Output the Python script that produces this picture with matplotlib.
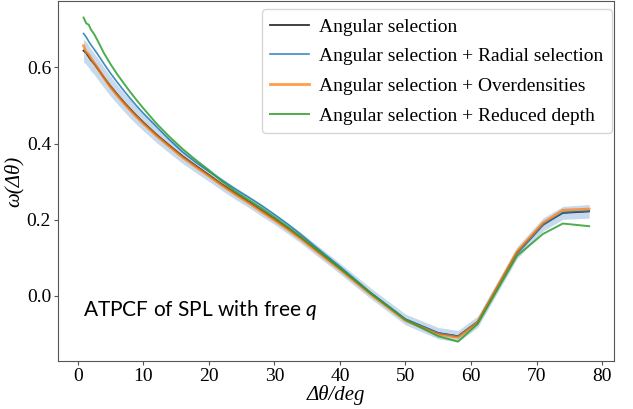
import numpy as np
import matplotlib
matplotlib.use("Agg")
import matplotlib.pyplot as plt

plt.rcParams["font.family"] = "Liberation Serif"
plt.rcParams["mathtext.fontset"] = "custom"
plt.rcParams["mathtext.it"] = "Lato:italic"
plt.rcParams["mathtext.rm"] = "Lato"

# angular separation (deg)
theta = [0.9, 1.3, 1.7, 2, 2.5, 3, 4, 5, 6, 7, 8, 9, 10, 12, 14, 16, 18, 20,
         22, 24, 26, 28, 30, 32, 34, 36, 38, 40, 42, 44.6, 50, 55, 58, 61,
         67, 71, 74, 78]

ang = [0.644, 0.638, 0.628, 0.620, 0.610, 0.598, 0.574, 0.551, 0.530, 0.510,
       0.491, 0.473, 0.456, 0.424, 0.395, 0.367, 0.342, 0.318, 0.293, 0.270,
       0.248, 0.225, 0.202, 0.178, 0.153, 0.126, 0.099, 0.072, 0.044, 0.008,
       -0.062, -0.098, -0.106, -0.068, 0.113, 0.188, 0.218, 0.222]

ang_err = [0.030, 0.030, 0.029, 0.029, 0.028, 0.028, 0.027, 0.026, 0.025,
           0.024, 0.024, 0.023, 0.022, 0.021, 0.020, 0.019, 0.018, 0.017,
           0.016, 0.016, 0.015, 0.015, 0.014, 0.014, 0.014, 0.014, 0.014,
           0.014, 0.014, 0.014, 0.014, 0.015, 0.015, 0.015, 0.016, 0.017,
           0.017, 0.018]

radial = [0.689, 0.680, 0.668, 0.660, 0.648, 0.636, 0.610, 0.585, 0.562,
          0.540, 0.519, 0.499, 0.480, 0.445, 0.410, 0.378, 0.351, 0.327,
          0.304, 0.281, 0.260, 0.238, 0.214, 0.189, 0.162, 0.133, 0.105,
          0.077, 0.048, 0.010, -0.061, -0.097, -0.106, -0.069, 0.110, 0.186,
          0.219, 0.223]

overdens = [0.657, 0.640, 0.634, 0.625, 0.612, 0.600, 0.573, 0.548, 0.527,
            0.507, 0.488, 0.470, 0.453, 0.421, 0.392, 0.364, 0.339, 0.315,
            0.290, 0.267, 0.245, 0.222, 0.199, 0.175, 0.150, 0.123, 0.096,
            0.069, 0.041, 0.005, -0.065, -0.101, -0.109, -0.070, 0.116,
            0.192, 0.225, 0.228]

reduced = [0.731, 0.716, 0.712, 0.700, 0.688, 0.672, 0.638, 0.609, 0.583,
           0.559, 0.536, 0.514, 0.493, 0.453, 0.418, 0.386, 0.357, 0.330,
           0.301, 0.275, 0.253, 0.231, 0.207, 0.182, 0.156, 0.129, 0.101,
           0.073, 0.045, 0.008, -0.063, -0.106, -0.120, -0.074, 0.105,
           0.163, 0.190, 0.183]

labels = ["Angular selection",
          "Angular selection + Radial selection",
          "Angular selection + Overdensities",
          "Angular selection + Reduced depth"]

theta = np.array(theta)
ang = np.array(ang)
ang_err = np.array(ang_err)

fig = plt.figure(figsize=(6.33, 4.09), dpi=100)
ax = fig.add_axes([0.0916, 0.1174, 0.8784, 0.8806])

ax.fill_between(theta, ang - ang_err, ang + ang_err, color="#a9c6e3",
                alpha=0.65, lw=0)
ax.plot(theta, ang, color="k", lw=1.3, alpha=0.8, label=labels[0])
ax.plot(theta, radial, color="#1f77b4", lw=1.2, alpha=0.85, label=labels[1])
ax.plot(theta, overdens, color="#ff7f0e", lw=2.0, alpha=0.75, label=labels[2])
ax.plot(theta, reduced, color="#2ca02c", lw=1.4, alpha=0.85, label=labels[3])

ax.set_xlim(-3, 81.8)
ax.set_ylim(-0.171, 0.775)
ax.set_xticks([0, 10, 20, 30, 40, 50, 60, 70, 80])
ax.set_yticks([0.0, 0.2, 0.4, 0.6])
ax.tick_params(labelsize=14, color="#555555", length=3, pad=2)
for s in ax.spines.values():
    s.set_color("#555555")

ax.set_xlabel("Δθ/deg", fontsize=15, fontstyle="italic", labelpad=0)
ax.set_ylabel("ω(Δθ)", fontsize=15, fontstyle="italic", labelpad=2)

ax.text(0.8, -0.037, "ATPCF of SPL with free $q$", family="Lato",
        fontsize=15, va="center", ha="left")

ax.legend(loc="upper right", bbox_to_anchor=(1.0, 0.982), borderaxespad=0.1,
          fontsize=14, handlelength=2.0, labelspacing=0.62, handletextpad=0.5,
          borderpad=0.45)

fig.savefig("out.png", dpi=100)
